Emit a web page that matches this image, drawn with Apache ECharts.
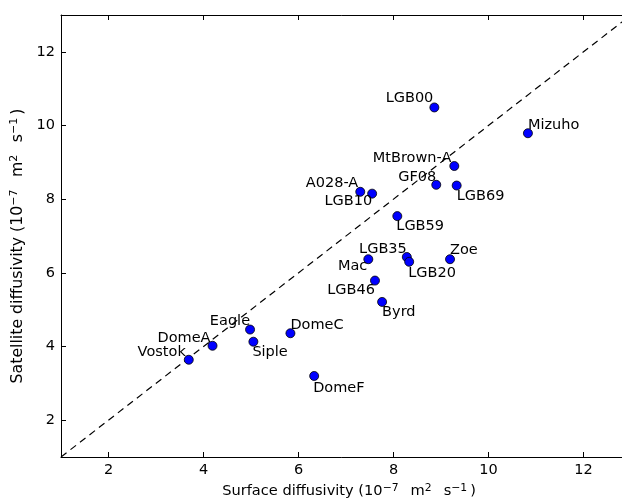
<!DOCTYPE html>
<html>
<head>
<meta charset="utf-8">
<script src="https://cdn.jsdelivr.net/npm/echarts@6/dist/echarts.min.js"></script>
<style>html,body{margin:0;padding:0;background:#fff;}#c{width:622px;height:499px;}</style>
</head>
<body>
<div id="c"></div>
<script>
// Data
const sites = ['LGB00','Mizuho','MtBrown-A','GF08','LGB69','A028-A','LGB10','LGB59','LGB35','Mac','LGB20','Zoe','LGB46','Byrd','DomeC','DomeF','Vostok','DomeA','Eagle','Siple'];
const surfaceDiff = [8.86,10.83,9.28,8.90,9.33,7.30,7.55,8.08,8.28,7.47,8.33,9.19,7.61,7.76,5.83,6.33,3.69,4.19,4.98,5.05];
const satelliteDiff = [10.49,9.79,8.90,8.39,8.37,8.20,8.15,7.54,6.43,6.37,6.30,6.37,5.79,5.21,4.36,3.20,3.64,4.02,4.46,4.13];
const tickValues = [2,4,6,8,10,12];
const oneToOne = [1,13];

// Label placement (style only): [align, dx, dy]
const labelPlace = {
  'LGB00':['right',-1,-9], 'Mizuho':['left',0,-8], 'MtBrown-A':['right',-3,-8], 'GF08':['right',0,-8],
  'LGB69':['left',0,11], 'A028-A':['right',-2,-9], 'LGB10':['right',0,8], 'LGB59':['left',-1,10],
  'LGB35':['right',0,-8], 'Mac':['right',-1,7.5], 'LGB20':['left',-1,11], 'Zoe':['left',0,-9],
  'LGB46':['right',0,10], 'Byrd':['left',0,10.5], 'DomeC':['left',0,-8], 'DomeF':['left',-1,12],
  'Vostok':['right',-3,-8], 'DomeA':['right',-2,-8], 'Eagle':['right',0,-8], 'Siple':['left',-1,11]
};

const FONT = 'DejaVu Sans';
const points = sites.map((n,i)=>{
  const p = labelPlace[n];
  return {
    name: n,
    value: [surfaceDiff[i], satelliteDiff[i]],
    label: {show:true, position:'inside', align:p[0], verticalAlign:'middle', offset:[p[1],p[2]]}
  };
});

function titleRich(f, fs, gap){
  return {
    t:{fontFamily:FONT, fontSize:f, color:'#000', lineHeight:f+2},
    s:{fontFamily:FONT, fontSize:fs, color:'#000', lineHeight:fs, verticalAlign:'top'},
    g1:{fontFamily:FONT, fontSize:fs, width:gap, lineHeight:fs},
    g3:{fontFamily:FONT, fontSize:fs, width:3, lineHeight:fs}
  };
}
function titleText(word){
  return '{t|' + word + ' diffusivity (10}{s|−7}{g1| }{t|m}{s|2}{g1| }{t|s}{s|−1}{g3| }{t|)}';
}

const axisCommon = {
  type:'value', min:oneToOne[0], max:oneToOne[1],
  splitLine:{show:false},
  axisLine:{show:true, onZero:false, lineStyle:{color:'#000', width:1}},
  axisTick:{show:true, inside:true, length:5, customValues:tickValues, lineStyle:{color:'#000', width:1}},
};

const chart = echarts.init(document.getElementById('c'), null, {renderer:'canvas'});
chart.setOption({
  animation:false,
  backgroundColor:'#fff',
  grid:{left:61, width:570, top:15, height:442, containLabel:false, outerBoundsMode:'none'},
  xAxis:[
    Object.assign({}, axisCommon, {
      position:'bottom',
      axisLabel:{show:true, customValues:tickValues, margin:6, fontFamily:FONT, fontSize:14.5, color:'#000'},
      name:titleText('Surface'),
      nameLocation:'middle', nameGap:25,
      nameTextStyle:{rich:titleRich(14.6,10.8,12), padding:[0,0,0,6]}
    }),
    Object.assign({}, axisCommon, {
      position:'top',
      axisLabel:{show:false}
    })
  ],
  yAxis:[
    Object.assign({}, axisCommon, {
      position:'left',
      axisLabel:{show:true, customValues:tickValues, margin:6, fontFamily:FONT, fontSize:14.5, color:'#000'},
      name:titleText('Satellite'),
      nameLocation:'middle', nameGap:27,
      nameTextStyle:{rich:titleRich(15.75,11,12.5), padding:[0,20,0,0]}
    })
  ],
  series:[
    {
      type:'line', xAxisIndex:0, yAxisIndex:0,
      data:[[oneToOne[0],oneToOne[0]],[oneToOne[1],oneToOne[1]]],
      symbol:'none', silent:true,
      lineStyle:{color:'#000', width:1.2, type:[7,5]},
      z:1
    },
    {
      type:'scatter', xAxisIndex:0, yAxisIndex:0,
      data:points,
      symbol:'circle', symbolSize:9,
      itemStyle:{color:'#0000ff', borderColor:'#000', borderWidth:0.8, opacity:1},
      label:{formatter:'{b}', fontFamily:FONT, fontSize:14.5, color:'#000'},
      z:3
    }
  ]
});
</script>
</body>
</html>
